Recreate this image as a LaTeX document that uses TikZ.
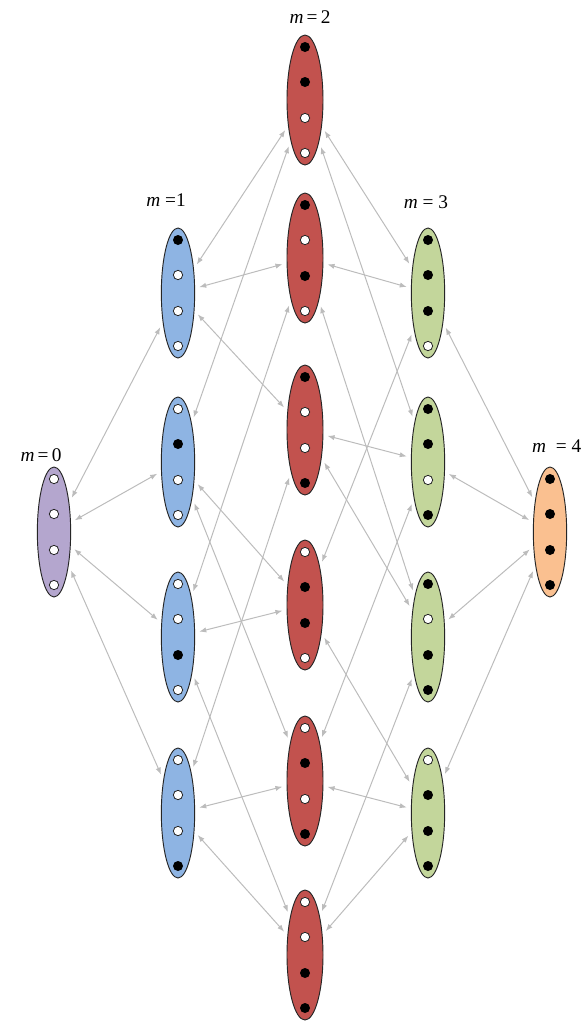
\documentclass[tikz,border=0pt]{standalone}
\usepackage{amsmath, amssymb}
\usepackage{fontspec}
\usepackage{tikz}
\usetikzlibrary{shapes.geometric,arrows.meta}

\newfontfamily\labelfont{Liberation Serif}

\definecolor{mzero}{RGB}{180,166,206}
\definecolor{mone}{RGB}{142,180,227}
\definecolor{mtwo}{RGB}{194,82,78}
\definecolor{mthree}{RGB}{195,214,155}
\definecolor{mfour}{RGB}{250,192,144}
\definecolor{linkgray}{RGB}{188,188,188}

\begin{document}
\begin{tikzpicture}[x=0.03cm, y=-0.03cm,
  state/.style={ellipse, draw=black!85, line width=0.8pt, minimum width=1cm,
    minimum height=3.9cm, inner sep=0pt, outer sep=2pt},
  bdot/.style={fill=black},
  wdot/.style={draw=black!85, fill=white, line width=0.7pt},
  link/.style={<->, >={Latex[length=6pt,width=4.5pt]}, draw=linkgray,
    line width=0.85pt, shorten <=2pt, shorten >=2pt},
  mlabel/.style={font=\labelfont\fontsize{16.5}{19}\selectfont}]
  \useasboundingbox (0,0) rectangle (587,1027);

  % 标签 m
  \node[mlabel] (l0) at (41,455) {\textit{m}\,=\,0};
  \node[mlabel] (l1) at (166,200) {\textit{m} =1};
  \node[mlabel] (l2) at (310,17) {\textit{m}\,=\,2};
  \node[mlabel] (l3) at (426,202) {\textit{m} = 3};
  \node[mlabel, anchor=west] (l4) at (528,446) {\textit{m}\ \ = 4};

  % 椭圆状态
  \node[state, fill=mzero] (a) at (54,532) {};

  \node[state, fill=mone] (b1) at (178,293) {};
  \node[state, fill=mone] (b2) at (178,462) {};
  \node[state, fill=mone] (b3) at (178,637) {};
  \node[state, fill=mone] (b4) at (178,813) {};

  \node[state, fill=mtwo, minimum width=1.08cm] (c1) at (305,100) {};
  \node[state, fill=mtwo, minimum width=1.08cm] (c2) at (305,258) {};
  \node[state, fill=mtwo, minimum width=1.08cm] (c3) at (305,430) {};
  \node[state, fill=mtwo, minimum width=1.08cm] (c4) at (305,605) {};
  \node[state, fill=mtwo, minimum width=1.08cm] (c5) at (305,781) {};
  \node[state, fill=mtwo, minimum width=1.08cm] (c6) at (305,955) {};

  \node[state, fill=mthree] (d1) at (428,293) {};
  \node[state, fill=mthree] (d2) at (428,462) {};
  \node[state, fill=mthree] (d3) at (428,637) {};
  \node[state, fill=mthree] (d4) at (428,813) {};

  \node[state, fill=mfour] (e) at (550,532) {};

  % 圆点（黑 = 1，白 = 0）
  \draw[wdot] (54,479) circle (0.14cm); \draw[wdot] (54,514) circle (0.14cm); \draw[wdot] (54,550) circle (0.14cm); \draw[wdot] (54,585) circle (0.14cm);

  \fill[bdot] (178,240) circle (0.15cm); \draw[wdot] (178,275) circle (0.14cm); \draw[wdot] (178,311) circle (0.14cm); \draw[wdot] (178,346) circle (0.14cm);
  \draw[wdot] (178,409) circle (0.14cm); \fill[bdot] (178,444) circle (0.15cm); \draw[wdot] (178,480) circle (0.14cm); \draw[wdot] (178,515) circle (0.14cm);
  \draw[wdot] (178,584) circle (0.14cm); \draw[wdot] (178,619) circle (0.14cm); \fill[bdot] (178,655) circle (0.15cm); \draw[wdot] (178,690) circle (0.14cm);
  \draw[wdot] (178,760) circle (0.14cm); \draw[wdot] (178,795) circle (0.14cm); \draw[wdot] (178,831) circle (0.14cm); \fill[bdot] (178,866) circle (0.15cm);

  \fill[bdot] (305,47) circle (0.15cm); \fill[bdot] (305,82) circle (0.15cm); \draw[wdot] (305,118) circle (0.14cm); \draw[wdot] (305,153) circle (0.14cm);
  \fill[bdot] (305,205) circle (0.15cm); \draw[wdot] (305,240) circle (0.14cm); \fill[bdot] (305,276) circle (0.15cm); \draw[wdot] (305,311) circle (0.14cm);
  \fill[bdot] (305,377) circle (0.15cm); \draw[wdot] (305,412) circle (0.14cm); \draw[wdot] (305,448) circle (0.14cm); \fill[bdot] (305,483) circle (0.15cm);
  \draw[wdot] (305,552) circle (0.14cm); \fill[bdot] (305,587) circle (0.15cm); \fill[bdot] (305,623) circle (0.15cm); \draw[wdot] (305,658) circle (0.14cm);
  \draw[wdot] (305,728) circle (0.14cm); \fill[bdot] (305,763) circle (0.15cm); \draw[wdot] (305,799) circle (0.14cm); \fill[bdot] (305,834) circle (0.15cm);
  \draw[wdot] (305,902) circle (0.14cm); \draw[wdot] (305,937) circle (0.14cm); \fill[bdot] (305,973) circle (0.15cm); \fill[bdot] (305,1008) circle (0.15cm);

  \fill[bdot] (428,240) circle (0.15cm); \fill[bdot] (428,275) circle (0.15cm); \fill[bdot] (428,311) circle (0.15cm); \draw[wdot] (428,346) circle (0.14cm);
  \fill[bdot] (428,409) circle (0.15cm); \fill[bdot] (428,444) circle (0.15cm); \draw[wdot] (428,480) circle (0.14cm); \fill[bdot] (428,515) circle (0.15cm);
  \fill[bdot] (428,584) circle (0.15cm); \draw[wdot] (428,619) circle (0.14cm); \fill[bdot] (428,655) circle (0.15cm); \fill[bdot] (428,690) circle (0.15cm);
  \draw[wdot] (428,760) circle (0.14cm); \fill[bdot] (428,795) circle (0.15cm); \fill[bdot] (428,831) circle (0.15cm); \fill[bdot] (428,866) circle (0.15cm);

  \fill[bdot] (550,479) circle (0.15cm); \fill[bdot] (550,514) circle (0.15cm); \fill[bdot] (550,550) circle (0.15cm); \fill[bdot] (550,585) circle (0.15cm);

  % m=0 -- m=1
  \draw[link] (a) -- (b1);
  \draw[link] (a) -- (b2);
  \draw[link] (a) -- (b3);
  \draw[link] (a) -- (b4);

  % m=1 -- m=2
  \draw[link] (b1) -- (c1);
  \draw[link] (b1) -- (c2);
  \draw[link] (b1) -- (c3);
  \draw[link] (b2) -- (c1);
  \draw[link] (b2) -- (c4);
  \draw[link] (b2) -- (c5);
  \draw[link] (b3) -- (c2);
  \draw[link] (b3) -- (c4);
  \draw[link] (b3) -- (c6);
  \draw[link] (b4) -- (c3);
  \draw[link] (b4) -- (c5);
  \draw[link] (b4) -- (c6);

  % m=2 -- m=3
  \draw[link] (c1) -- (d1);
  \draw[link] (c1) -- (d2);
  \draw[link] (c2) -- (d1);
  \draw[link] (c2) -- (d3);
  \draw[link] (c3) -- (d2);
  \draw[link] (c3) -- (d3);
  \draw[link] (c4) -- (d1);
  \draw[link] (c4) -- (d4);
  \draw[link] (c5) -- (d2);
  \draw[link] (c5) -- (d4);
  \draw[link] (c6) -- (d3);
  \draw[link] (c6) -- (d4);

  % m=3 -- m=4
  \draw[link] (d1) -- (e);
  \draw[link] (d2) -- (e);
  \draw[link] (d3) -- (e);
  \draw[link] (d4) -- (e);
\end{tikzpicture}
\end{document}
